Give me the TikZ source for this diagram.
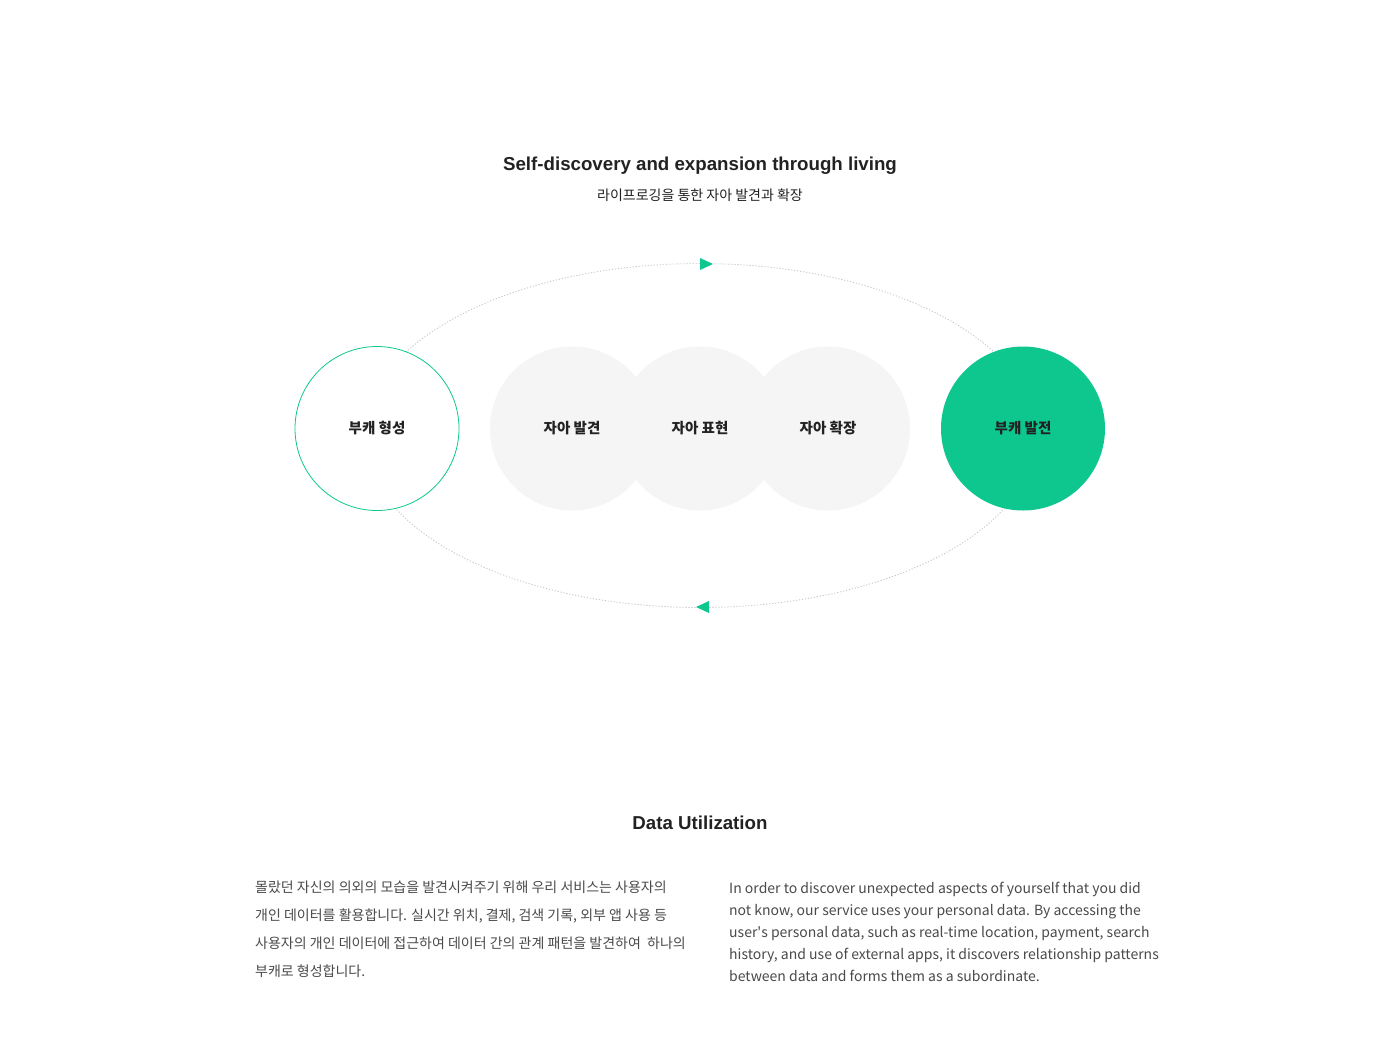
\documentclass[tikz,border=0pt]{standalone}
\usepackage{fontspec}
\setmainfont{Noto Sans CJK KR}
\newfontfamily\headfont{Liberation Sans}
\usepackage{tikz}
\definecolor{mint}{HTML}{0DC78F}
\definecolor{paper}{HTML}{F5F5F5}
\definecolor{ink}{HTML}{222222}
\definecolor{body}{HTML}{4A4A4A}
\definecolor{dots}{HTML}{C4C4C4}
\tikzset{
  stage/.style={circle, minimum size=164pt, inner sep=0pt, font=\fontsize{14.5}{16}\selectfont\bfseries, text=ink},
  para/.style={anchor=north west, align=left, inner sep=0pt, text=body}
}
\begin{document}
\begin{tikzpicture}[x=1pt, y=-1pt]
	\useasboundingbox[fill=white] (0,0) rectangle (1400,1045);
	% titles
	\node [at={(700,165.5)}, text=ink] (title) {\headfont\fontsize{18.7}{22}\selectfont\bfseries Self-discovery and expansion through living};
	\node [at={(700,195)}, text=ink, font=\fontsize{14}{16}\selectfont] (subtitle) {라이프로깅을 통한 자아 발견과 확장};
	% cycle
	\draw[color=dots, line width=0.8pt, dash pattern=on 1.2pt off 1.8pt] (700,435.5) ellipse[x radius=336, y radius=172];
	\fill[mint] (700,258) -- (713,264) -- (700,270) -- cycle;
	\fill[mint] (709,601) -- (696,607) -- (709,613) -- cycle;
	% stages
	\node[stage, draw=mint, line width=0.8pt, fill=white, at={(377,428.5)}] (start) {부캐 형성};
	\node[stage, fill=paper, at={(572,428.5)}] (find) {};
	\node[stage, fill=paper, at={(700,428.5)}] (show) {};
	\node[stage, fill=paper, at={(828,428.5)}] (grow) {};
	\node[text=ink, font=\fontsize{14.5}{16}\selectfont\bfseries, at={(find)}] {자아 발견};
	\node[text=ink, font=\fontsize{14.5}{16}\selectfont\bfseries, at={(show)}] {자아 표현};
	\node[text=ink, font=\fontsize{14.5}{16}\selectfont\bfseries, at={(grow)}] {자아 확장};
	\node[stage, fill=mint, at={(1023,428.5)}] (end) {부캐 발전};
	% data utilization
	\node [at={(700,822.5)}, text=ink] (data) {\headfont\fontsize{18.7}{22}\selectfont\bfseries Data Utilization};
	\node[para, font=\fontsize{14}{28}\selectfont, at={(255,881)}] (kor) {몰랐던 자신의 의외의 모습을 발견시켜주기 위해 우리 서비스는 사용자의\\
	개인 데이터를 활용합니다. 실시간 위치, 결제, 검색 기록, 외부 앱 사용 등\\
	사용자의 개인 데이터에 접근하여 데이터 간의 관계 패턴을 발견하여~ 하나의\\
	부캐로 형성합니다.};
	\node[para, font=\fontsize{14}{22}\selectfont, at={(729,882)}] (eng) {In order to discover unexpected aspects of yourself that you did\\
	not know, our service uses your personal data. By accessing the\\
	user\textquotesingle s personal data, such as real-time location, payment, search\\
	history, and use of external apps, it discovers relationship patterns\\
	between data and forms them as a subordinate.};
\end{tikzpicture}
\end{document}
